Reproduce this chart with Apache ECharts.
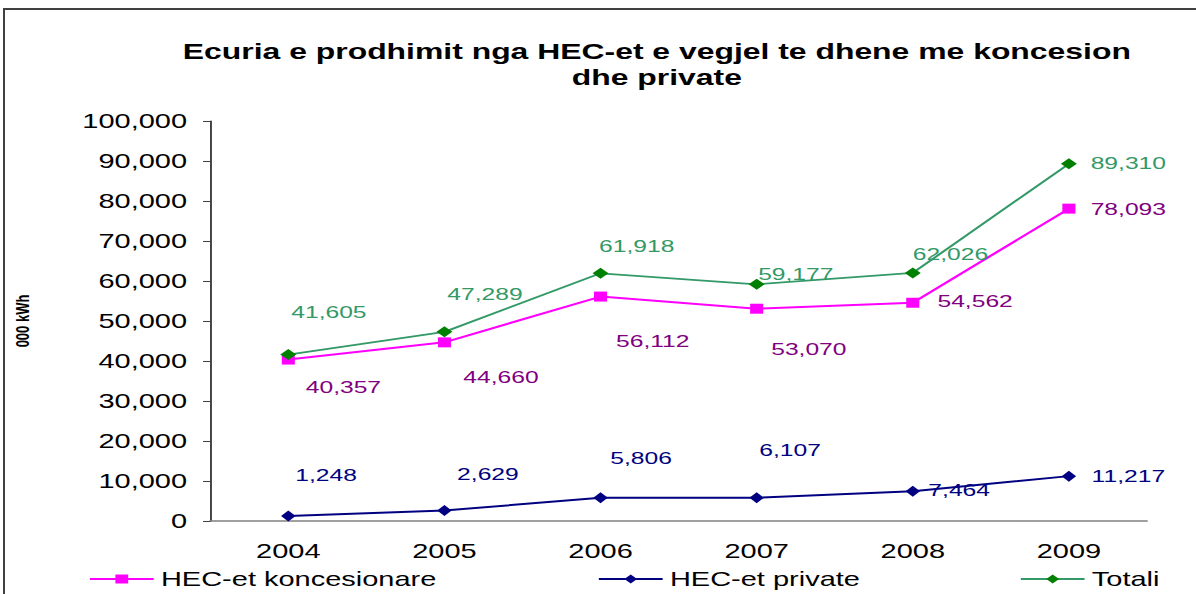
<!DOCTYPE html>
<html>
<head>
<meta charset="utf-8">
<script src="https://cdn.jsdelivr.net/npm/echarts@6/dist/echarts.min.js"></script>
<style>
  html, body { margin: 0; padding: 0; background: #fff; overflow: hidden; }
  #frame { position: absolute; left: 3px; top: 8px; width: 1193px; height: 586px;
           border-top: 2px solid #404040; border-left: 2px solid #404040; }
  /* the original is a horizontally stretched Excel picture, so the chart is
     drawn narrower and widened with scaleX */
  #chart { position: absolute; left: 0; top: 0; width: 825px; height: 594px;
           transform: scaleX(1.45); transform-origin: 0 0; }
</style>
</head>
<body>
<div id="frame"></div>
<div id="chart"></div>
<script>
const years = ['2004', '2005', '2006', '2007', '2008', '2009']
const koncesionare = [40357, 44660, 56112, 53070, 54562, 78093]
const privatePlotted = [1248, 2629, 5806, 5806, 7464, 11217]
const privateLabels = [1248, 2629, 5806, 6107, 7464, 11217]
const totali = [41605, 47289, 61918, 59177, 62026, 89310]
const yTicks = [0, 10000, 20000, 30000, 40000, 50000, 60000, 70000, 80000, 90000, 100000]

// label offsets (unstretched px) relative to each point
const totOffsets = [[28, -43], [28, -38], [25, -27], [27, -10], [26, -19], [41, -1]]
const konOffsets = [[38, 27], [39, 35], [36, 44], [36, 40], [43, -2], [41, 0]]
const privOffsets = [[26, -41], [30, -37], [28, -40], [23, -48], [32, -1], [41, 0]]

const fmt = v => v.toLocaleString('en-US')
const font = 'Liberation Sans, Arial, sans-serif'

function labelled(values, offsets, color, shown) {
  return values.map((v, i) => ({
    value: v,
    label: {
      show: true,
      position: 'inside',
      offset: offsets[i],
      formatter: fmt(shown ? shown[i] : v),
      color: color,
      fontSize: 17,
      fontFamily: font
    }
  }))
}

const chart = echarts.init(document.getElementById('chart'), null, { renderer: 'svg' })
chart.setOption({
  animation: false,
  title: {
    text: 'Ecuria e prodhimit nga HEC-et e vegjel te dhene me koncesion\ndhe private',
    left: 448,
    top: 33,
    textAlign: 'center',
    textStyle: { fontFamily: font, fontWeight: 'bold', fontSize: 22, lineHeight: 26, color: '#000' }
  },
  legend: [
    { data: ['HEC-et koncesionare'], left: 61 },
    { data: ['HEC-et private'], left: 412 },
    { data: ['Totali'], left: 703 }
  ].map(l => Object.assign(l, {
    top: 569, padding: 0,
    itemWidth: 44, itemHeight: 11, itemGap: 0,
    textStyle: { fontFamily: font, fontSize: 20, color: '#000' }
  })),
  grid: { left: 145, right: 34, top: 121, bottom: 73 },
  xAxis: {
    type: 'category',
    data: years,
    axisLine: { lineStyle: { color: '#808080', width: 1.5 } },
    axisTick: { length: 7, lineStyle: { color: '#404040' } },
    axisLabel: { color: '#000', fontSize: 20, fontFamily: font, margin: 20 }
  },
  yAxis: {
    type: 'value',
    min: yTicks[0],
    max: yTicks[yTicks.length - 1],
    interval: 10000,
    name: '000 kWh',
    nameLocation: 'middle',
    nameGap: 123,
    nameTextStyle: { fontFamily: font, fontWeight: 'bold', fontSize: 13, color: '#000' },
    axisLine: { show: true, lineStyle: { color: '#000', width: 1 } },
    axisTick: { show: true, length: 5, lineStyle: { color: '#404040' } },
    splitLine: { show: false },
    axisLabel: { color: '#000', fontSize: 20, fontFamily: font, margin: 16, formatter: fmt }
  },
  series: [
    {
      name: 'HEC-et koncesionare',
      type: 'line',
      data: labelled(koncesionare, konOffsets, '#800080'),
      symbol: 'rect',
      symbolSize: [9, 10],
      itemStyle: { color: '#FF00FF' },
      lineStyle: { color: '#FF00FF', width: 2 }
    },
    {
      name: 'HEC-et private',
      type: 'line',
      data: labelled(privatePlotted, privOffsets, '#000080', privateLabels),
      symbol: 'diamond',
      symbolSize: [10, 11],
      itemStyle: { color: '#000080' },
      lineStyle: { color: '#000080', width: 2 }
    },
    {
      name: 'Totali',
      type: 'line',
      data: labelled(totali, totOffsets, '#339966'),
      symbol: 'diamond',
      symbolSize: [11, 11],
      itemStyle: { color: '#008000' },
      lineStyle: { color: '#339966', width: 1.8 }
    }
  ]
})
</script>
</body>
</html>
